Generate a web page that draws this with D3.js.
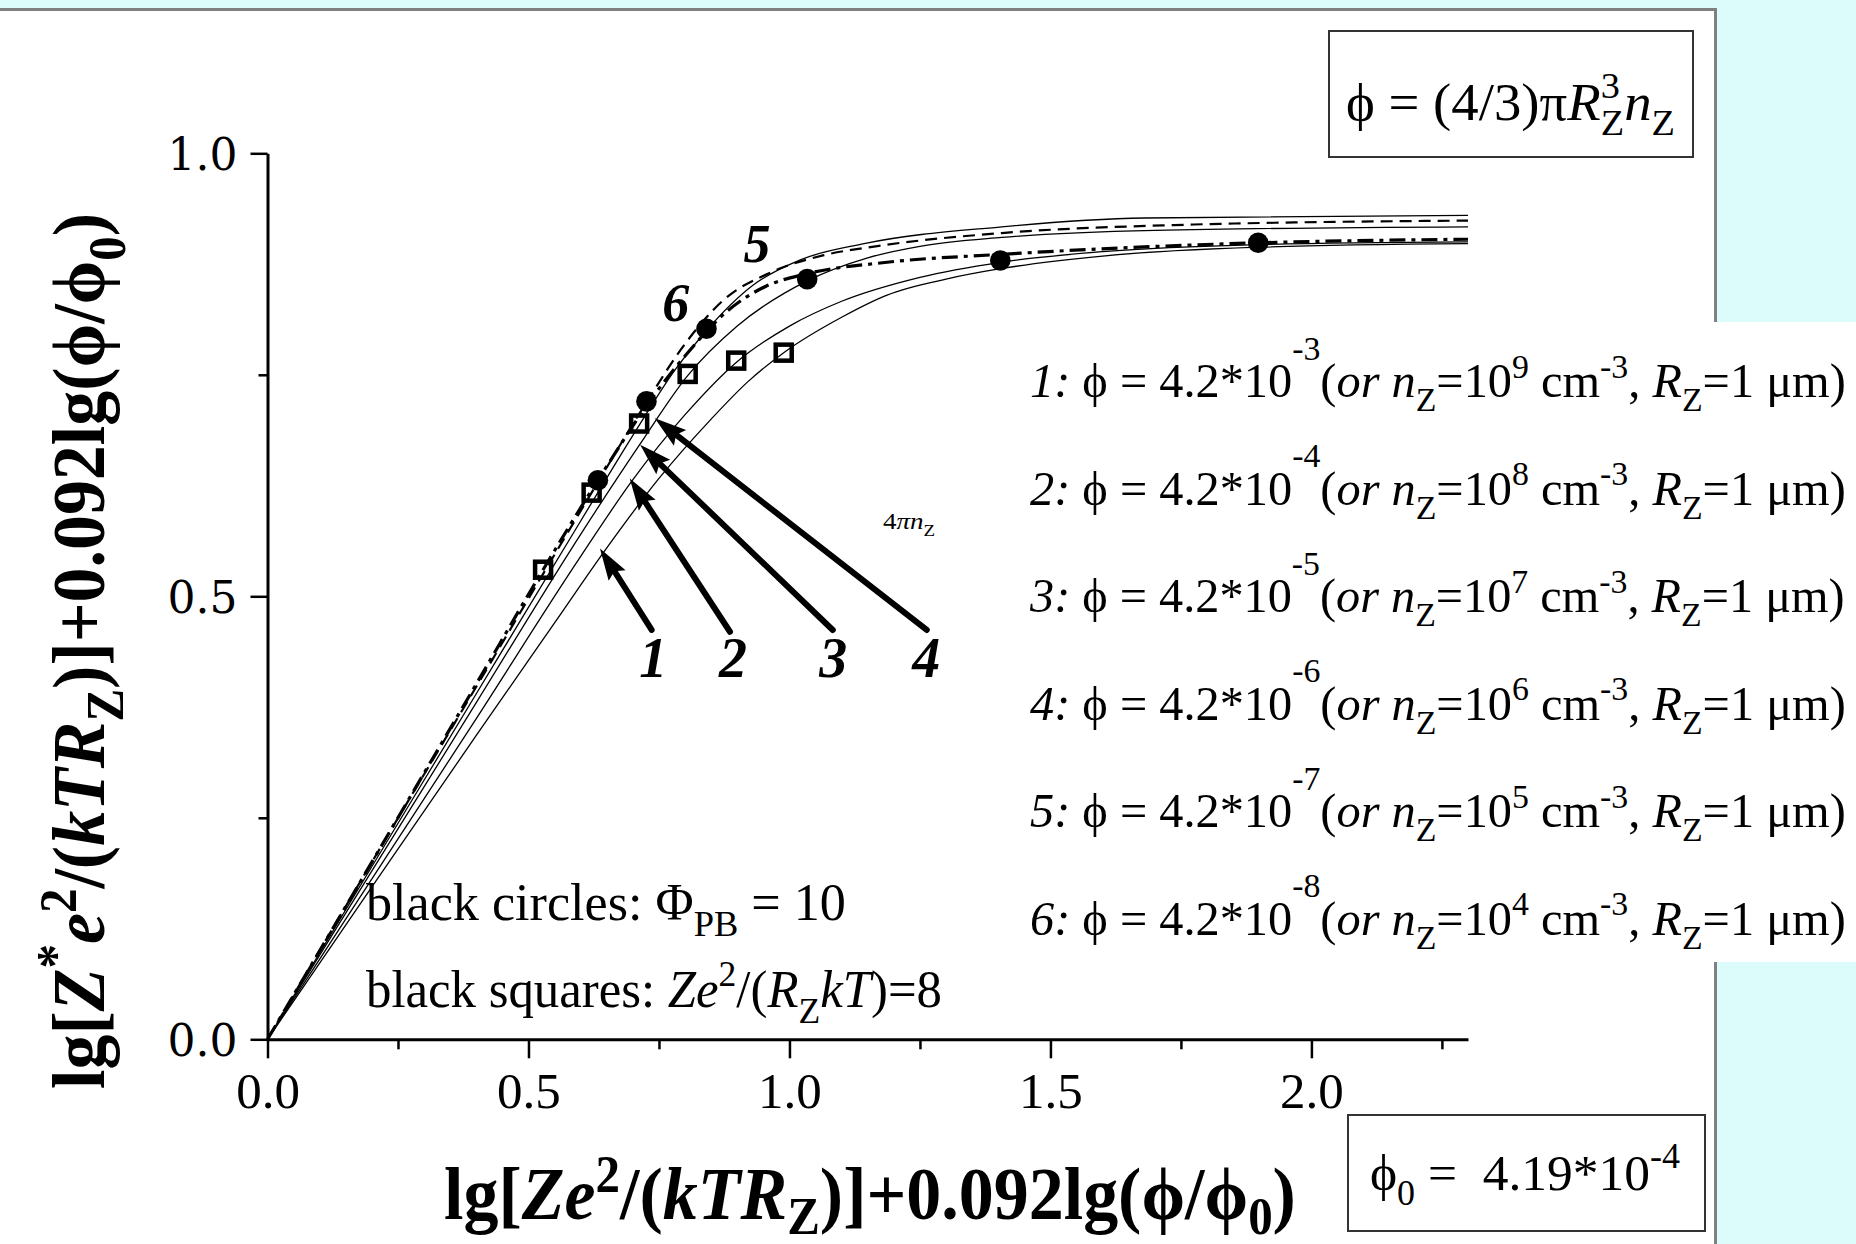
<!DOCTYPE html>
<html>
<head>
<meta charset="utf-8">
<script src="https://cdn.jsdelivr.net/npm/d3@7"></script>
<style>
  html, body { margin: 0; padding: 0; background: #dcfcfc; }
  svg { display: block; }
  text { white-space: pre; }
</style>
</head>
<body>
<svg id="chart" width="1856" height="1244"></svg>
<script>
// ---- data -------------------------------------------------------------
const curveNames = ["1", "2", "3", "4", "5", "6"];
const curveStyles = ["solid", "solid", "solid", "solid", "dash", "dashdot"];

const curve1 = [[0,0],[0.2,0.172],[0.4,0.343],[0.55,0.47],[0.648,0.553],[0.75,0.633],[0.85,0.70],[0.92,0.742],[0.989,0.775],[1.1,0.815],[1.187,0.840],[1.3,0.858],[1.407,0.870],[1.6,0.884],[1.9,0.894],[2.3,0.898]];
const curve2 = [[0,0],[0.2,0.181],[0.4,0.362],[0.6,0.545],[0.698,0.630],[0.8,0.705],[0.898,0.764],[1.0,0.805],[1.1,0.833],[1.25,0.860],[1.404,0.877],[1.6,0.889],[1.9,0.897],[2.3,0.900]];
const curve3 = [[0,0],[0.2,0.19],[0.4,0.38],[0.6,0.57],[0.714,0.672],[0.805,0.749],[0.9,0.805],[1.034,0.856],[1.15,0.882],[1.25,0.895],[1.407,0.905],[1.7,0.913],[2.3,0.917]];
const curve4 = [[0,0],[0.2,0.195],[0.4,0.39],[0.6,0.585],[0.712,0.693],[0.78,0.755],[0.841,0.800],[0.93,0.851],[1.022,0.880],[1.143,0.898],[1.407,0.917],[1.681,0.927],[2.3,0.930]];
const curve5 = [[0,0],[0.2,0.2],[0.4,0.398],[0.621,0.617],[0.726,0.719],[0.8,0.785],[0.873,0.834],[0.966,0.866],[1.066,0.885],[1.165,0.895],[1.407,0.910],[1.737,0.919],[2.3,0.924]];
const curve6 = [[0,0],[0.2,0.2],[0.4,0.401],[0.528,0.530],[0.633,0.631],[0.742,0.728],[0.801,0.772],[0.881,0.822],[0.955,0.850],[1.033,0.864],[1.187,0.877],[1.407,0.886],[1.901,0.899],[2.3,0.903]];
const curves = [curve1, curve2, curve3, curve4, curve5, curve6];

// points where Phi_PB = 10 (filled circles) and Ze^2/(R_Z kT) = 8 (open squares)
const circlePoints = [[0.633,0.631],[0.726,0.720],[0.841,0.802],[1.034,0.858],[1.404,0.879],[1.898,0.899]];
const squarePoints = [[0.528,0.530],[0.621,0.617],[0.712,0.695],[0.805,0.751],[0.898,0.766],[0.989,0.775]];

// pointer arrows for curves 1-4 (tail -> tip) and their numbers
const arrowTails = [[0.736,0.462],[0.886,0.460],[1.083,0.462],[1.263,0.462]];
const arrowTips  = [[0.637,0.554],[0.694,0.633],[0.714,0.671],[0.742,0.701]];
const arrowLabelPos = [[0.739,0.409],[0.892,0.409],[1.084,0.409],[1.262,0.409]];
const curveLabelPos = [[0.938,0.877],[0.782,0.811]]; // labels "5" and "6"

const xTickValues = [0,0.25,0.5,0.75,1.0,1.25,1.5,1.75,2.0,2.25];
const xTickLabels = ["0.0","0.5","1.0","1.5","2.0"];
const yTickValues = [0,0.25,0.5,0.75,1.0];
const yTickLabels = ["0.0","0.5","1.0"];

const phiExponents = [-3,-4,-5,-6,-7,-8];
const nzExponents = [9,8,7,6,5,4];

// ---- layout -----------------------------------------------------------
const W = 1856, H = 1244;
const SERIF = "'Liberation Serif','Times New Roman',serif";
const PHI = "\u03D5";
const svg = d3.select("#chart");

const x = d3.scaleLinear().domain([0, 2.3]).range([267.5, 1468]);
const y = d3.scaleLinear().domain([0, 1]).range([1039.3, 153.3]);

// background and white sheet
svg.append("rect").attr("width", W).attr("height", H).attr("fill", "#dcfcfc");
svg.append("rect").attr("x", -4).attr("y", 9.5).attr("width", 1719.5).attr("height", 1260)
  .attr("fill", "#fff").attr("stroke", "#808080").attr("stroke-width", 3);
// white legend panel that runs past the sheet edge
svg.append("rect").attr("x", 1010).attr("y", 322).attr("width", 846).attr("height", 640).attr("fill", "#fff");

// rich text helper: parts = [{t, italic, shift(em), scale, dx(em)}]
function richText(parent, parts, o) {
  const g = parent.append("g");
  const t = g.append("text")
    .attr("x", 0).attr("y", 0)
    .attr("font-family", o.family || SERIF)
    .attr("font-size", o.size)
    .attr("font-weight", o.bold ? "bold" : "normal")
    .attr("font-style", o.italic ? "italic" : "normal")
    .attr("text-anchor", o.anchor || "start")
    .attr("fill", "#000");
  let cur = 0;
  parts.forEach(p => {
    const shift = p.shift || 0;
    const ts = t.append("tspan").text(p.t);
    if (shift !== cur) ts.attr("dy", ((shift - cur) * o.size).toFixed(2));
    cur = shift;
    if (p.scale) ts.attr("font-size", o.size * p.scale);
    if (p.italic) ts.attr("font-style", "italic");
    if (p.dx) ts.attr("dx", (p.dx * o.size).toFixed(2));
  });
  let s = 1;
  if (o.width) {
    const w = t.node().getBBox().width;
    s = o.width / w;
  }
  g.attr("transform", `translate(${o.x},${o.y}) rotate(${o.rotate || 0}) scale(${s},1)`);
  return g;
}
const sup = (t, k) => ({ t, shift: k === undefined ? -0.4 : k, scale: 0.7 });
const sub = (t, k) => ({ t, shift: k === undefined ? 0.3 : k, scale: 0.7 });

// ---- axes -------------------------------------------------------------
const xAxis = d3.axisBottom(x)
  .tickValues(xTickValues)
  .tickSizeOuter(0)
  .tickFormat(v => {
    const i = xTickValues.indexOf(v);
    return i % 2 === 0 ? xTickLabels[i / 2] : "";
  });
const gx = svg.append("g").attr("transform", `translate(0,${y(0)})`).call(xAxis);
gx.select(".domain").attr("stroke", "#000").attr("stroke-width", 3);
gx.selectAll(".tick line").attr("stroke", "#000").attr("stroke-width", 2.5)
  .attr("y2", (d, i) => i % 2 === 0 ? 19 : 10);
gx.selectAll(".tick text")
  .attr("y", 69).attr("dy", 0)
  .attr("font-family", SERIF).attr("font-size", 51).attr("fill", "#000");

const yAxis = d3.axisLeft(y)
  .tickValues(yTickValues)
  .tickSizeOuter(0)
  .tickFormat(v => {
    const i = yTickValues.indexOf(v);
    return i % 2 === 0 ? yTickLabels[i / 2] : "";
  });
const gy = svg.append("g").attr("transform", `translate(${x(0)},0)`).call(yAxis);
gy.select(".domain").attr("stroke", "#000").attr("stroke-width", 3);
gy.selectAll(".tick line").attr("stroke", "#000").attr("stroke-width", 2.5)
  .attr("x2", (d, i) => i % 2 === 0 ? -17 : -9);
gy.selectAll(".tick text")
  .attr("x", -30).attr("dy", "0.36em")
  .attr("font-family", "'DejaVu Serif',serif").attr("font-size", 44).attr("fill", "#000");

// ---- curves -----------------------------------------------------------
const line = d3.line().x(d => x(d[0])).y(d => y(d[1])).curve(d3.curveMonotoneX);
const styleOf = {
  solid:   { w: 1.3, dash: null },
  dash:    { w: 2.2, dash: "12,7" },
  dashdot: { w: 3.2, dash: "16,6,4,6" }
};
svg.append("g").selectAll("path").data(curves).join("path")
  .attr("d", line)
  .attr("fill", "none")
  .attr("stroke", "#000")
  .attr("stroke-width", (d, i) => styleOf[curveStyles[i]].w)
  .attr("stroke-dasharray", (d, i) => styleOf[curveStyles[i]].dash);

// markers
svg.append("g").selectAll("rect").data(squarePoints).join("rect")
  .attr("x", d => x(d[0]) - 8).attr("y", d => y(d[1]) - 8)
  .attr("width", 16).attr("height", 16)
  .attr("fill", "none").attr("stroke", "#000").attr("stroke-width", 4.5);
svg.append("g").selectAll("circle").data(circlePoints).join("circle")
  .attr("cx", d => x(d[0])).attr("cy", d => y(d[1])).attr("r", 10.3)
  .attr("fill", "#000");

// arrows
const ga = svg.append("g");
arrowTails.forEach((tail, i) => {
  const tip = arrowTips[i];
  const x0 = x(tail[0]), y0 = y(tail[1]), x1 = x(tip[0]), y1 = y(tip[1]);
  const L = Math.hypot(x1 - x0, y1 - y0), ux = (x1 - x0) / L, uy = (y1 - y0) / L;
  const hl = 32, hw = 10;
  const bx = x1 - ux * hl, by = y1 - uy * hl;
  ga.append("line").attr("x1", x0).attr("y1", y0).attr("x2", bx + ux * 6).attr("y2", by + uy * 6)
    .attr("stroke", "#000").attr("stroke-width", 6).attr("stroke-linecap", "round");
  ga.append("path")
    .attr("d", `M${x1},${y1} L${bx - uy * hw},${by + ux * hw} L${bx + ux * 5},${by + uy * 5} L${bx + uy * hw},${by - ux * hw} Z`)
    .attr("fill", "#000");
  ga.append("text").attr("x", x(arrowLabelPos[i][0])).attr("y", y(arrowLabelPos[i][1]))
    .attr("text-anchor", "middle").attr("font-family", SERIF).attr("font-size", 56)
    .attr("font-weight", "bold").attr("font-style", "italic").text(curveNames[i]);
});
curveLabelPos.forEach((p, i) => {
  svg.append("text").attr("x", x(p[0])).attr("y", y(p[1]))
    .attr("text-anchor", "middle").attr("font-family", SERIF).attr("font-size", 54)
    .attr("font-weight", "bold").attr("font-style", "italic").text(curveNames[4 + i]);
});

// ---- texts ------------------------------------------------------------
// axis titles
richText(svg, [
  { t: "lg[" }, { t: "Ze", italic: true }, sup("2", -0.36), { t: "/(" },
  { t: "kTR", italic: true }, sub("Z", 0.2), { t: `)]+0.092lg(${PHI}/${PHI}` }, sub("0", 0.2), { t: ")" }
], { x: 870, y: 1219, size: 74, bold: true, anchor: "middle", width: 852 });

richText(svg, [
  { t: "lg[" }, { t: "Z", italic: true }, sup("*", -0.42), { t: "e", italic: true }, sup("2", -0.38),
  { t: "/(" }, { t: "kTR", italic: true }, sub("Z", 0.26), { t: `)]+0.092lg(${PHI}/${PHI}` }, sub("0", 0.28), { t: ")" }
], { x: 104, y: 651, size: 74, bold: true, anchor: "middle", rotate: -90, width: 876 });

// legend of the six curves
phiExponents.forEach((e, i) => {
  richText(svg, [
    { t: `${i + 1}:`, italic: true }, { t: ` ${PHI} = 4.2*10` }, sup(`${e}`, -0.78),
    { t: "(" }, { t: "or n", italic: true }, sub("Z"), { t: "=10" }, sup(`${nzExponents[i]}`),
    { t: " cm" }, sup("-3"), { t: ", " }, { t: "R", italic: true }, sub("Z"), { t: "=1 μm)" }
  ], { x: 1030, y: 397 + 107.5 * i, size: 48, width: 816 });
});

// formula boxes
svg.append("rect").attr("x", 1329).attr("y", 31).attr("width", 364).attr("height", 126)
  .attr("fill", "#fff").attr("stroke", "#333").attr("stroke-width", 2);
richText(svg, [
  { t: `${PHI} = (4/3)π` }, { t: "R", italic: true }, sup("3", -0.42), { t: "Z", shift: 0.28, scale: 0.7, dx: -0.35 },
  { t: "n", italic: true }, sub("Z", 0.28)
], { x: 1346, y: 120, size: 52, width: 329 });

svg.append("rect").attr("x", 1348).attr("y", 1115).attr("width", 357).attr("height", 116)
  .attr("fill", "#fff").attr("stroke", "#333").attr("stroke-width", 2);
richText(svg, [
  { t: PHI }, sub("0", 0.3), { t: " =  4.19*10" }, sup("-4", -0.45)
], { x: 1370, y: 1190, size: 50, width: 310 });

// marker notes
richText(svg, [
  { t: "black circles: Φ" }, sub("PB", 0.3), { t: " = 10" }
], { x: 366, y: 920, size: 52, width: 480 });
richText(svg, [
  { t: "black squares: " }, { t: "Ze", italic: true }, sup("2", -0.4), { t: "/(" },
  { t: "R", italic: true }, sub("Z", 0.3), { t: "kT", italic: true }, { t: ")=8" }
], { x: 366, y: 1007, size: 52, width: 576 });

// small stray label
richText(svg, [
  { t: "4" }, { t: "πn", italic: true }, sub("Z", 0.3)
], { x: 883, y: 529, size: 24, width: 52 });
</script>
</body>
</html>
